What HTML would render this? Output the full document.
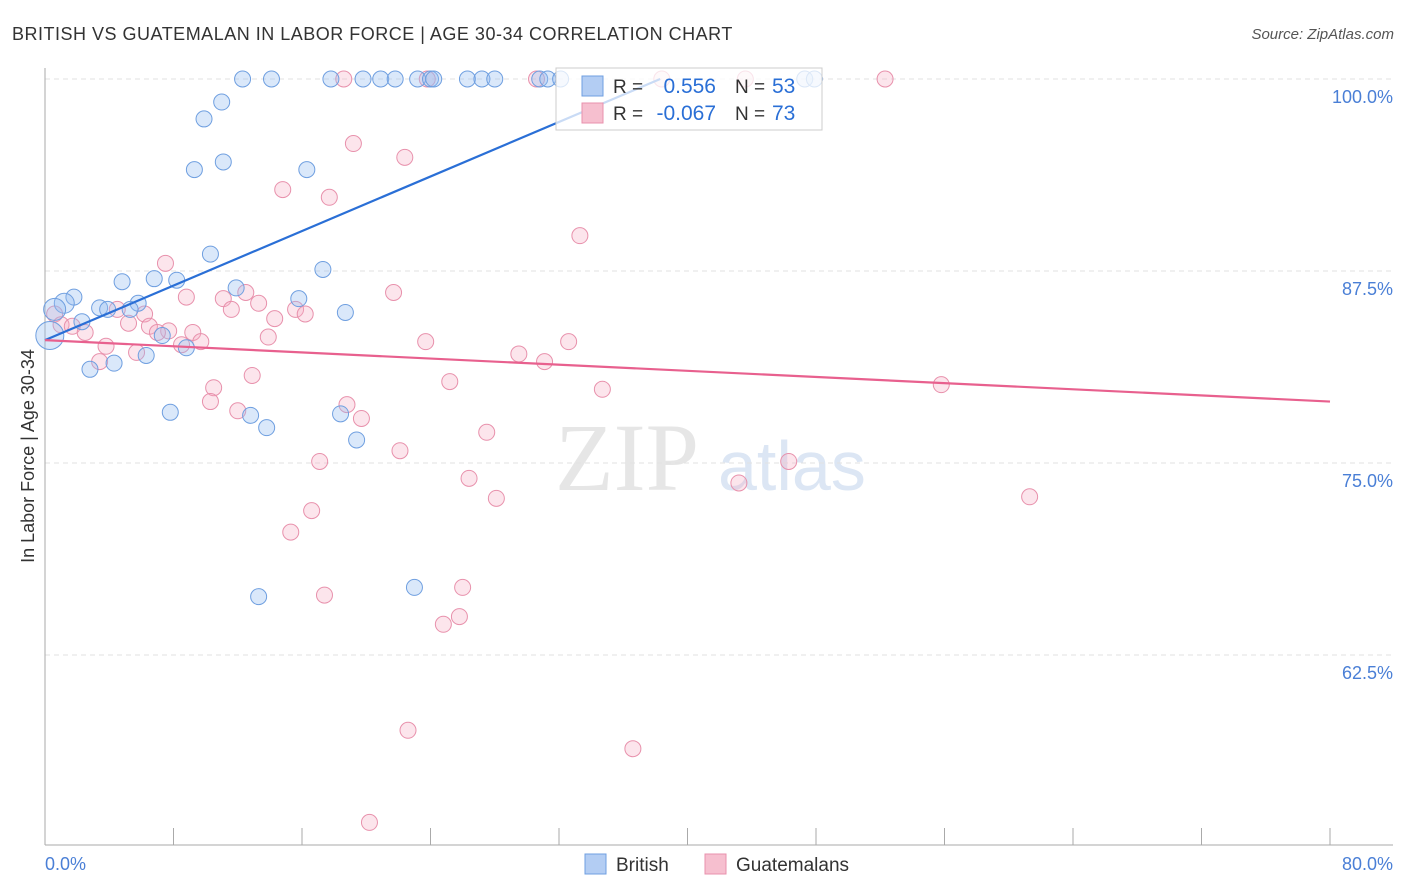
<!DOCTYPE html>
<html><head><meta charset="utf-8"><style>
body{margin:0;background:#fff;font-family:"Liberation Sans",sans-serif;}
#wrap{position:relative;width:1406px;height:892px;overflow:hidden;}
</style></head><body>
<div id="wrap">
<svg id="svg" width="1406" height="892" xmlns="http://www.w3.org/2000/svg">
<text x="12" y="40" font-size="18" letter-spacing="0.5" fill="#333">BRITISH VS GUATEMALAN IN LABOR FORCE | AGE 30-34 CORRELATION CHART</text>
<text x="1394" y="39" font-size="15" fill="#555" text-anchor="end" font-style="italic">Source: ZipAtlas.com</text>
<text x="34" y="456" font-size="18" fill="#333" text-anchor="middle" transform="rotate(-90 34 456)">In Labor Force | Age 30-34</text>
<text x="555" y="490" font-size="96" fill="#e6e6e6" font-family="Liberation Serif,serif">ZIP</text>
<text x="718" y="490" font-size="70" fill="#dce6f4">atlas</text>
<g id="grid"></g><g id="axes"></g><g id="pts"></g><g id="lines"></g><g id="legend"></g>
</svg></div>
<script>
const xTickVals=[0,8,16,24,32,40,48,56,64,72,80];
const yTickVals=[100,87.5,75,62.5];
const yTickLabels=["100.0%","87.5%","75.0%","62.5%"];
const blueX=[12.3,14.1,17.8,19.8,20.9,21.8,23.2,24.0,24.2,26.3,27.2,28.0,30.8,31.3,32.1,47.3,47.9,11.0,9.9,11.1,9.3,16.3,10.3,17.3,6.8,8.2,4.8,11.9,1.8,1.2,0.6,3.4,3.9,5.8,5.3,15.8,18.7,2.3,0.3,7.3,8.8,6.3,4.3,2.8,7.8,12.8,18.4,13.8,19.4,13.3,23.0];
const blueY=[100,100,100,100,100,100,100,100,100,100,100,100,100,100,100,100,100,98.5,97.4,94.6,94.1,94.1,88.6,87.6,87.0,86.9,86.8,86.4,85.8,85.4,85.0,85.1,85.0,85.4,85.0,85.7,84.8,84.2,83.3,83.3,82.5,82.0,81.5,81.1,78.3,78.1,78.2,77.3,76.5,66.3,66.9];
const blueR=[8,8,8,8,8,8,8,8,8,8,8,8,8,8,8,8,8,8,8,8,8,8,8,8,8,8,8,8,8,10,11,8,8,8,8,8,8,8,14,8,8,8,8,8,8,8,8,8,8,8,8];
const pinkX=[18.6,23.8,30.6,38.4,43.6,52.3,19.2,22.4,14.8,17.7,33.3,7.5,8.8,11.1,12.5,13.3,21.7,11.6,15.6,16.2,4.5,6.2,14.3,0.6,1.0,1.7,2.5,5.2,6.5,7.7,9.2,7.0,8.5,9.7,13.9,3.8,5.7,3.4,23.7,32.6,29.5,31.1,12.9,25.2,10.5,34.7,55.8,10.3,12.0,18.8,19.7,27.5,22.1,17.1,46.3,26.4,43.2,28.1,61.3,16.6,15.3,26.0,17.4,25.8,24.8,22.6,36.6,20.2];
const pinkY=[100,100,100,100,100,100,95.8,94.9,92.8,92.3,89.8,88.0,85.8,85.7,86.1,85.4,86.1,85.0,85.0,84.7,85.0,84.7,84.4,84.7,84.0,83.9,83.5,84.1,83.9,83.6,83.5,83.5,82.7,82.9,83.2,82.6,82.2,81.6,82.9,82.9,82.1,81.6,80.7,80.3,79.9,79.8,80.1,79.0,78.4,78.8,77.9,77.0,75.8,75.1,75.1,74.0,73.7,72.7,72.8,71.9,70.5,66.9,66.4,65.0,64.5,57.6,56.4,51.6];
const blueLine=[[0,83.0],[38.3,100]];
const pinkLine=[[0,83.0],[80,79.0]];
const X=v=>45+v*16.0625, Y=v=>79+(100-v)*15.36;
const NS="http://www.w3.org/2000/svg";
function mk(p,t,a){const e=document.createElementNS(NS,t);for(const k in a)e.setAttribute(k,a[k]);p.appendChild(e);return e;}
const grid=document.getElementById('grid'),axes=document.getElementById('axes'),pts=document.getElementById('pts'),lines=document.getElementById('lines'),leg=document.getElementById('legend');
yTickVals.forEach((v,i)=>{
 const l=mk(grid,'line',{x1:45,x2:1393,y1:Y(v),y2:Y(v),stroke:'#e2e2e2','stroke-dasharray':'5,4'});
 
 
 const t=mk(axes,'text',{x:1393,y:Y(v)+24,'font-size':18,fill:'#4a7fd6','text-anchor':'end'});t.textContent=yTickLabels[i];
 
 
});
mk(axes,'line',{x1:45,x2:45,y1:68,y2:845,stroke:'#aaa'});
mk(axes,'line',{x1:45,x2:1393,y1:845,y2:845,stroke:'#aaa'});
xTickVals.forEach(v=>{const l=mk(axes,'line',{x1:X(v),x2:X(v),y1:828,y2:845,stroke:'#aaa'});
 
 });
let t=mk(axes,'text',{x:45,y:870,'font-size':18,fill:'#4a7fd6'});t.textContent='0.0%';


t=mk(axes,'text',{x:1393,y:870,'font-size':18,fill:'#4a7fd6','text-anchor':'end'});t.textContent='80.0%';


pinkX.forEach((x,i)=>{const c=mk(pts,'circle',{cx:X(x),cy:Y(pinkY[i]),r:8,fill:'rgba(244,170,192,0.3)',stroke:'#e891ac','stroke-width':1});
 
 });
blueX.forEach((x,i)=>{const c=mk(pts,'circle',{cx:X(x),cy:Y(blueY[i]),r:blueR[i],fill:'rgba(150,190,240,0.35)',stroke:'#6f9fe0','stroke-width':1});
 
 });
let ln=mk(lines,'line',{x1:X(blueLine[0][0]),y1:Y(blueLine[0][1]),x2:X(blueLine[1][0]),y2:Y(blueLine[1][1]),stroke:'#2a6fd6','stroke-width':2.2});


ln=mk(lines,'line',{x1:X(pinkLine[0][0]),y1:Y(pinkLine[0][1]),x2:X(pinkLine[1][0]),y2:Y(pinkLine[1][1]),stroke:'#e8608e','stroke-width':2.2});


const box=mk(leg,'rect',{x:556,y:68,width:266,height:62,fill:'rgba(255,255,255,0.75)',stroke:'#ccc'});


[["#b3cdf3","#6f9fe0","0.556","53",86],["#f6bfcf","#e891ac","-0.067","73",113]].forEach(r=>{
 const s=mk(leg,'rect',{x:582,y:r[4]-10,width:21,height:20,fill:r[0],stroke:r[1]});
 
 
 let a=mk(leg,'text',{x:613,y:r[4]+7,'font-size':19,fill:'#333'});a.textContent='R = ';
 
 
 a=mk(leg,'text',{x:716,y:r[4]+7,'font-size':21,fill:'#2a6fd6','text-anchor':'end'});a.textContent=r[2];
 
 
 a=mk(leg,'text',{x:735,y:r[4]+7,'font-size':19,fill:'#333'});a.textContent='N = ';
 
 
 a=mk(leg,'text',{x:772,y:r[4]+7,'font-size':21,fill:'#2a6fd6'});a.textContent=r[3];
 
 
});
[["#b3cdf3","#6f9fe0","British",585],["#f6bfcf","#e891ac","Guatemalans",705]].forEach(r=>{
 const s=mk(leg,'rect',{x:r[3],y:854,width:21,height:20,fill:r[0],stroke:r[1]});
 
 
 const a=mk(leg,'text',{x:r[3]+31,y:871,'font-size':19,fill:'#333'});a.textContent=r[2];
 
 
});
</script>
</body></html>
